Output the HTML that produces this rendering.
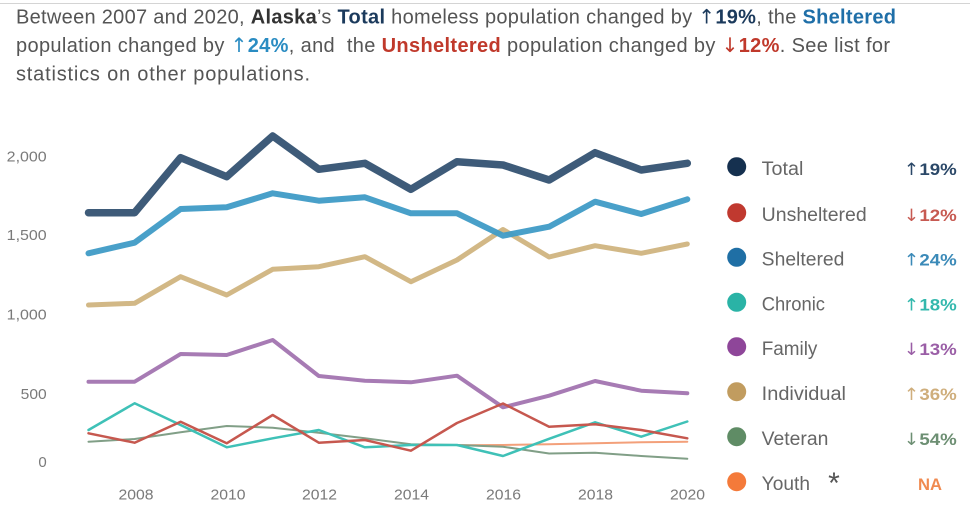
<!DOCTYPE html>
<html>
<head>
<meta charset="utf-8">
<style>
  html, body { margin: 0; padding: 0; background: #ffffff; }
  body { width: 970px; height: 519px; overflow: hidden; }
  svg { display: block; }
  text { font-family: "Liberation Sans", "DejaVu Sans", sans-serif; white-space: pre; }
  .hdr { font-size: 20px; fill: #555555; }
  .b { font-weight: bold; }
  .ar { font-family: "DejaVu Sans", sans-serif; font-weight: normal; }
  .ax { font-size: 15px; fill: #7a7a7a; }
  .lg { font-size: 19px; fill: #666666; }
  .pc { font-size: 17px; font-weight: bold; }
  .ln { fill: none; stroke-linejoin: round; stroke-linecap: round; }
</style>
</head>
<body>
<svg width="970" height="519" viewBox="0 0 970 519" xmlns="http://www.w3.org/2000/svg">
  <!-- top rule -->
  <line x1="0" y1="3.5" x2="970" y2="3.5" stroke="#d4d4d4" stroke-width="1"/>

  <!-- header -->
  <text class="hdr" x="16" y="23.5" textLength="880" lengthAdjust="spacing">Between 2007 and 2020, <tspan class="b" fill="#333333">Alaska</tspan>’s <tspan class="b" fill="#1b3a5c">Total</tspan> homeless population changed by <tspan class="ar" fill="#1b3a5c">↑</tspan><tspan class="b" fill="#1b3a5c">19%</tspan>, the <tspan class="b" fill="#1f6fa8">Sheltered</tspan></text>
  <text class="hdr" x="16" y="52" textLength="874" lengthAdjust="spacing">population changed by <tspan class="ar" fill="#2a8cc2">↑</tspan><tspan class="b" fill="#2a8cc2">24%</tspan>, and  the <tspan class="b" fill="#c0392b">Unsheltered</tspan> population changed by <tspan class="ar" fill="#c0392b">↓</tspan><tspan class="b" fill="#c0392b">12%</tspan>. See list for</text>
  <text class="hdr" x="16" y="80.5" textLength="294" lengthAdjust="spacing">statistics on other populations.</text>

  <!-- y axis labels -->
  <text class="ax" x="46.7" y="161.5" text-anchor="end" textLength="40" lengthAdjust="spacingAndGlyphs">2,000</text>
  <text class="ax" x="46.7" y="240" text-anchor="end" textLength="40" lengthAdjust="spacingAndGlyphs">1,500</text>
  <text class="ax" x="46.7" y="319.5" text-anchor="end" textLength="40" lengthAdjust="spacingAndGlyphs">1,000</text>
  <text class="ax" x="46.7" y="399" text-anchor="end" textLength="26" lengthAdjust="spacingAndGlyphs">500</text>
  <text class="ax" x="46.7" y="467" text-anchor="end">0</text>

  <!-- x axis labels -->
  <text class="ax" x="136" y="499.5" text-anchor="middle" textLength="35" lengthAdjust="spacingAndGlyphs">2008</text>
  <text class="ax" x="228" y="499.5" text-anchor="middle" textLength="35" lengthAdjust="spacingAndGlyphs">2010</text>
  <text class="ax" x="319.5" y="499.5" text-anchor="middle" textLength="35" lengthAdjust="spacingAndGlyphs">2012</text>
  <text class="ax" x="411.5" y="499.5" text-anchor="middle" textLength="35" lengthAdjust="spacingAndGlyphs">2014</text>
  <text class="ax" x="503.5" y="499.5" text-anchor="middle" textLength="35" lengthAdjust="spacingAndGlyphs">2016</text>
  <text class="ax" x="595.5" y="499.5" text-anchor="middle" textLength="35" lengthAdjust="spacingAndGlyphs">2018</text>
  <text class="ax" x="687.5" y="499.5" text-anchor="middle" textLength="35" lengthAdjust="spacingAndGlyphs">2020</text>

  <!-- series -->
  <!-- Youth -->
  <polyline class="ln" stroke="#f3a07a" stroke-width="2"
    points="457.0,445.3 503.0,445 549.1,444.3 595.1,443.3 641.2,442.3 687.3,441.7"/>
  <!-- Veteran -->
  <polyline class="ln" stroke="#819f87" stroke-width="2"
    points="88.5,441.7 134.6,439 180.6,432.3 226.7,426 272.7,427.7 318.8,432.7 364.9,438.3 410.9,444.3 457.0,445 503.0,446.7 549.1,453.5 595.1,452.7 641.2,456 687.3,458.8"/>
  <!-- Chronic -->
  <polyline class="ln" stroke="#3fc1b7" stroke-width="2.5"
    points="88.5,430 134.6,403.3 180.6,425 226.7,447.3 272.7,438.3 318.8,430 364.9,447.3 410.9,445 457.0,445 503.0,456 549.1,438.8 595.1,422.3 641.2,436.7 687.3,421.5"/>
  <!-- Family -->
  <polyline class="ln" stroke="#a77bb4" stroke-width="4"
    points="88.5,381.7 134.6,381.7 180.6,354 226.7,355 272.7,340 318.8,376 364.9,380.7 410.9,382.3 457.0,375.7 503.0,407.3 549.1,395.7 595.1,381 641.2,390.7 687.3,393.3"/>
  <!-- Unsheltered -->
  <polyline class="ln" stroke="#c6584f" stroke-width="2.5"
    points="88.5,433.3 134.6,442.7 180.6,421.7 226.7,443.3 272.7,415 318.8,442.7 364.9,440 410.9,450.7 457.0,423 503.0,403.5 549.1,426.7 595.1,424.3 641.2,430 687.3,438.3"/>
  <!-- Individual -->
  <polyline class="ln" stroke="#d2b886" stroke-width="5"
    points="88.5,305 134.6,303.3 180.6,276.7 226.7,295 272.7,269.3 318.8,266.7 364.9,256.7 410.9,281.7 457.0,260 503.0,229.5 549.1,257 595.1,245.7 641.2,253.3 687.3,244"/>
  <!-- Sheltered -->
  <polyline class="ln" stroke="#3f9bc6" stroke-width="6" stroke-opacity="0.95"
    points="88.5,253.3 134.6,242.7 180.6,209 226.7,207.3 272.7,193.3 318.8,200.7 364.9,197.3 410.9,213.3 457.0,213.3 503.0,235.7 549.1,226.7 595.1,201.7 641.2,214 687.3,199.3"/>
  <!-- Total -->
  <polyline class="ln" stroke="#3e5b79" stroke-width="7.5"
    points="88.5,212.7 134.6,212.7 180.6,157.7 226.7,176.7 272.7,136 318.8,169.3 364.9,163.3 410.9,189.3 457.0,161.7 503.0,165 549.1,180 595.1,152.7 641.2,170 687.3,163.3"/>

  <!-- legend -->
  <circle cx="736.7" cy="166.7" r="9.5" fill="#15304f"/>
  <text class="lg" x="761.7" y="175" textLength="41.7" lengthAdjust="spacingAndGlyphs">Total</text>
  <text class="pc" x="956.7" y="175" text-anchor="end" fill="#2b4868" textLength="53" lengthAdjust="spacingAndGlyphs"><tspan class="ar">↑</tspan>19%</text>

  <circle cx="736.7" cy="212.7" r="9.5" fill="#c0392f"/>
  <text class="lg" x="761.7" y="221" textLength="105" lengthAdjust="spacingAndGlyphs">Unsheltered</text>
  <text class="pc" x="956.7" y="221" text-anchor="end" fill="#c75a52" textLength="53" lengthAdjust="spacingAndGlyphs"><tspan class="ar">↓</tspan>12%</text>

  <circle cx="736.7" cy="257.3" r="9.5" fill="#1f6fa5"/>
  <text class="lg" x="761.7" y="265.6" textLength="82.7" lengthAdjust="spacingAndGlyphs">Sheltered</text>
  <text class="pc" x="956.7" y="265.6" text-anchor="end" fill="#3b8ab8" textLength="53" lengthAdjust="spacingAndGlyphs"><tspan class="ar">↑</tspan>24%</text>

  <circle cx="736.7" cy="302.3" r="9.5" fill="#2ab3a6"/>
  <text class="lg" x="761.7" y="310.6" textLength="63.3" lengthAdjust="spacingAndGlyphs">Chronic</text>
  <text class="pc" x="956.7" y="310.6" text-anchor="end" fill="#33b8ad" textLength="53" lengthAdjust="spacingAndGlyphs"><tspan class="ar">↑</tspan>18%</text>

  <circle cx="736.7" cy="346.7" r="9.5" fill="#8e4699"/>
  <text class="lg" x="761.7" y="355" textLength="55.7" lengthAdjust="spacingAndGlyphs">Family</text>
  <text class="pc" x="956.7" y="355" text-anchor="end" fill="#9a5ea6" textLength="53" lengthAdjust="spacingAndGlyphs"><tspan class="ar">↓</tspan>13%</text>

  <circle cx="736.7" cy="391.7" r="9.5" fill="#c19c5f"/>
  <text class="lg" x="761.7" y="400" textLength="84.3" lengthAdjust="spacingAndGlyphs">Individual</text>
  <text class="pc" x="956.7" y="400" text-anchor="end" fill="#cfae7c" textLength="53" lengthAdjust="spacingAndGlyphs"><tspan class="ar">↑</tspan>36%</text>

  <circle cx="736.7" cy="436.7" r="9.5" fill="#5f8c65"/>
  <text class="lg" x="761.7" y="445" textLength="66.7" lengthAdjust="spacingAndGlyphs">Veteran</text>
  <text class="pc" x="956.7" y="445" text-anchor="end" fill="#6d8f73" textLength="53" lengthAdjust="spacingAndGlyphs"><tspan class="ar">↓</tspan>54%</text>

  <circle cx="736.7" cy="481.7" r="9.5" fill="#f47a3a"/>
  <text class="lg" x="761.7" y="490" textLength="48.3" lengthAdjust="spacingAndGlyphs">Youth</text>
  <text x="834" y="493" text-anchor="middle" font-size="30" fill="#555555">*</text>
  <text class="pc" x="930" y="490" text-anchor="middle" fill="#f08a50" textLength="24" lengthAdjust="spacingAndGlyphs">NA</text>
</svg>
</body>
</html>
